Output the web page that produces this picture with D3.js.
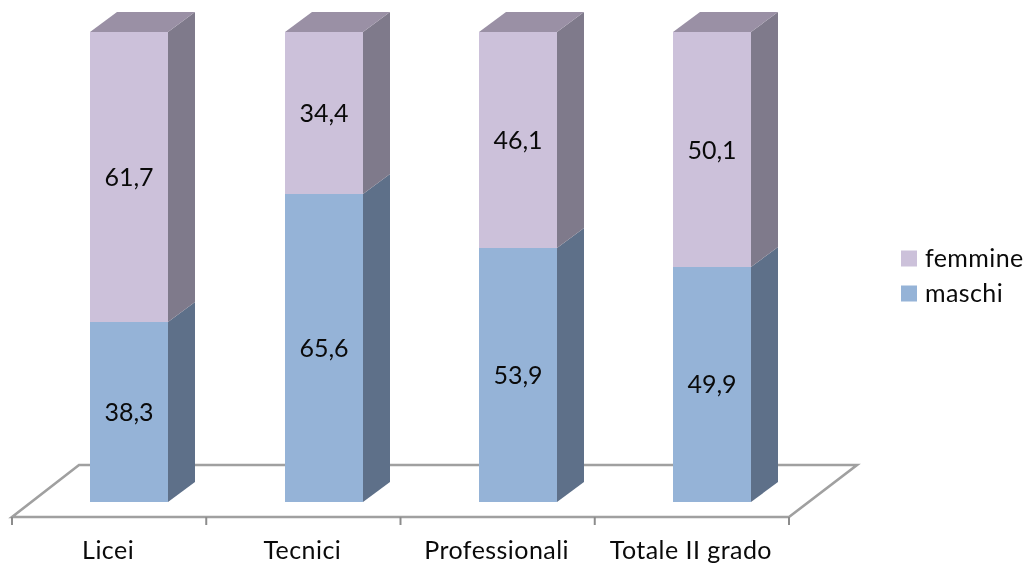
<!DOCTYPE html>
<html><head><meta charset="utf-8">
<script src="https://cdn.jsdelivr.net/npm/d3@7/dist/d3.min.js"></script>
<style>html,body{margin:0;padding:0;background:#fff}svg{display:block;filter:blur(0.4px)}text{font-family:Lato,"Open Sans",sans-serif;fill:#0a0a0a}</style>
</head><body><svg id="c" width="1027" height="564"></svg>
<script>
const categories = ["Licei","Tecnici","Professionali","Totale II grado"];
const maschi = [38.3,65.6,53.9,49.9];
const femmine = [61.7,34.4,46.1,50.1];
const seriesNames = ["maschi","femmine"];
const legendOrder = ["femmine","maschi"];
const front = {maschi:"#95B3D7",femmine:"#CCC1DA"};
const side = {maschi:"#5E7089",femmine:"#7F7A8B"};
const topFace = {maschi:"#77899F",femmine:"#9A90A5"};

const svg = d3.select("#c");
const x = d3.scaleBand().domain(categories).range([12,789]);
const y = d3.scaleLinear().domain([0,100]).range([501.5,32]);
const dx = 27, dy = -20, bw = 78, barOffset = 20.3;
const floorFront = 517, floorBack = 465, floorDx = 68;
const fmt = d3.formatLocale({decimal:",",thousands:".",grouping:[3],currency:["","€"]}).format(".1f");

const rows = categories.map((c,i)=>({cat:c,maschi:maschi[i],femmine:femmine[i]}));
const stacked = d3.stack().keys(seriesNames)(rows);

// floor
const [x0,x1] = x.range();
svg.append("path")
  .attr("d",`M${x0},${floorFront}L${x0+floorDx-1},${floorBack}L${x1+floorDx},${floorBack}L${x1},${floorFront}Z`)
  .attr("fill","none").attr("stroke","#A0A0A0").attr("stroke-width",2.6);
const tickX = categories.map(c=>x(c)).concat([x1]);
svg.selectAll("line.tick").data(tickX).join("line").attr("class","tick")
  .attr("x1",d=>d).attr("x2",d=>d).attr("y1",floorFront).attr("y2",525)
  .attr("stroke","#8C8C8C").attr("stroke-width",2);

// bars
const left = c => Math.round(x(c)+x.bandwidth()/2+barOffset-bw/2);
stacked.forEach(s=>{
  const g = svg.append("g");
  s.forEach(d=>{
    const c = d.data.cat, l = left(c), r = l+bw, yb = Math.round(y(d[0])), yt = Math.round(y(d[1]));
    g.append("polygon").attr("points",[[r,yt],[r+dx,yt+dy],[r+dx,yb+dy],[r,yb]].join(" ")).attr("fill",side[s.key]);
    g.append("rect").attr("x",l).attr("y",yt).attr("width",bw).attr("height",yb-yt).attr("fill",front[s.key]);
    if(s.key==="femmine")
      g.append("polygon").attr("points",[[l,yt],[l+dx,yt+dy],[r+dx,yt+dy],[r,yt]].join(" ")).attr("fill",topFace[s.key]);
  });
});
// value labels
stacked.forEach(s=>s.forEach(d=>{
  svg.append("text").attr("x",left(d.data.cat)+bw/2).attr("y",(y(d[0])+y(d[1]))/2+9)
    .attr("text-anchor","middle").attr("font-size",25).text(fmt(d[1]-d[0]));
}));
// category labels
svg.selectAll("text.cat").data(categories).join("text").attr("class","cat")
  .attr("x",d=>x(d)+x.bandwidth()/2-1).attr("y",559).attr("text-anchor","middle")
  .attr("font-size",25).attr("letter-spacing",0.45).text(d=>d);
// legend
const ly = d3.scalePoint().domain(legendOrder).range([258.5,293.5]);
legendOrder.forEach(k=>{
  svg.append("rect").attr("x",901).attr("y",ly(k)-8).attr("width",16).attr("height",16).attr("fill",front[k]);
  svg.append("text").attr("x",925).attr("y",ly(k)+8).attr("font-size",25).attr("letter-spacing",0.4).text(k);
});
</script></body></html>
